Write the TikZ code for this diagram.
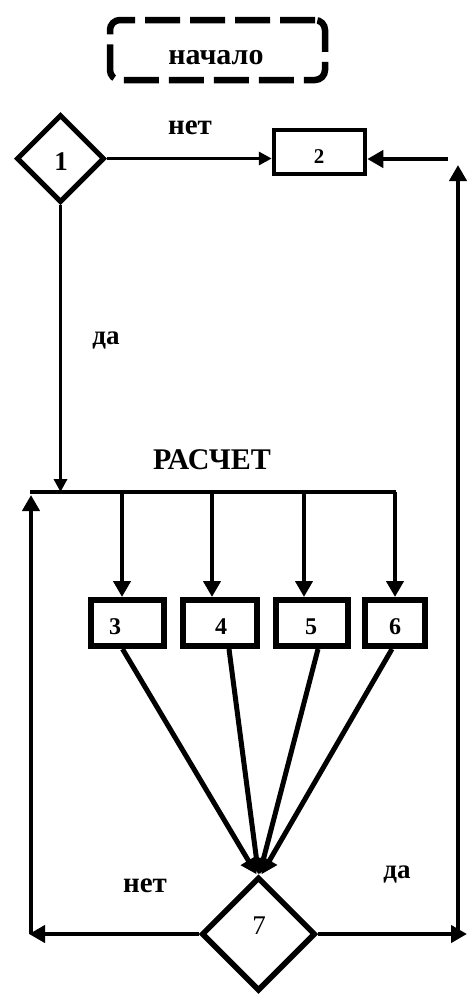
\documentclass[tikz,border=0pt]{standalone}
\usepackage{fontspec}
\setmainfont{Liberation Serif}
\usetikzlibrary{arrows.meta,shapes.geometric}
\begin{document}
\begin{tikzpicture}[x=1pt,y=-1pt,
  conn/.style={line width=4pt},
  arr/.style={conn,-{Triangle[length=16pt,width=17pt]}},
  sarr/.style={line width=3.5pt,-{Triangle[length=13pt,width=13pt]}},
  box/.style={draw,line width=6pt,inner sep=0pt,minimum height=46pt},
  dia/.style={draw,diamond,line width=5pt,inner sep=0pt,aspect=1},
  lbl/.style={font=\bfseries\fontsize{29}{29}\selectfont,inner sep=0pt},
  num/.style={font=\bfseries\fontsize{24}{24}\selectfont,inner sep=0pt}]
\useasboundingbox (0,0) rectangle (467,994);
% start
\node[draw,line width=6.5pt,rounded corners=10pt,dash pattern=on 35pt off 10pt,
      minimum width=215pt,minimum height=60pt] (start) at (217.5,50) {};
\node[lbl,font=\bfseries\fontsize{30}{30}\selectfont] (tstart) at (216,58) {начало};
% decision 1
\node[dia,minimum size=88pt] (d1) at (60.5,158.5) {};
\node[num,font=\bfseries\fontsize{27}{27}\selectfont] (t1) at (61,162) {1};
% box 2
\node[draw,line width=4.5pt,minimum width=91pt,minimum height=44pt] (b2) at (319.5,152) {};
\node[num,font=\bfseries\fontsize{21}{21}\selectfont] (t2) at (319,157) {2};
\node[lbl] (lnet1) at (190,128) {нет};
\draw[sarr] (d1.east) -- (d1.east -| b2.west);
% right side return
\coordinate (rh) at (448,159);
\coordinate (rt) at (458,165);
\coordinate (rv) at (458,934);
\coordinate (rb) at (467,934);
\draw[arr] (rh) -- (rh -| b2.east);
\draw[arr] (rv) -- (rt);
% yes from d1
\node[lbl,font=\bfseries\fontsize{27}{27}\selectfont] (lda1) at (106,341) {да};
\coordinate (busL) at (30,492);
\coordinate (busR) at (396,492);
\draw[line width=3.5pt] (busL) -- (busR);
\draw[sarr] (d1.south) -- (d1.south |- busL);
\node[lbl,font=\bfseries\fontsize{30}{30}\selectfont] (lcalc) at (212,460) {РАСЧЕТ};
% boxes 3..6
\node[box,minimum width=73pt] (b3) at (127.5,623) {};
\node[box,minimum width=74pt] (b4) at (220,623) {};
\node[box,minimum width=72pt] (b5) at (312,623) {};
\node[box,minimum width=60pt] (b6) at (395,623) {};
\node[num] (t3) at (115,627) {3};
\node[num] (t4) at (221,627) {4};
\node[num] (t5) at (311,627) {5};
\node[num] (t6) at (395,627) {6};
\coordinate (p3) at (122,492);
\coordinate (p4) at (212,492);
\coordinate (p5) at (304,492);
\coordinate (p6) at (395,492);
\draw[arr] (p3) -- (p3 |- b3.north);
\draw[arr] (p4) -- (p4 |- b4.north);
\draw[arr] (p5) -- (p5 |- b5.north);
\draw[arr] (p6) -- (p6 |- b6.north);
% decision 7
\node[dia,line width=5.5pt,minimum size=114pt] (d7) at (258.5,934) {};
\node[font=\fontsize{27}{27}\selectfont,inner sep=0pt] (t7) at (259,926) {7};
\draw[arr,line width=5pt] ([xshift=-5pt]b3.south) -- ([xshift=-2pt]d7.north);
\draw[arr,line width=5pt] ([xshift=9pt]b4.south) -- (d7.north);
\draw[arr,line width=5pt] ([xshift=6pt]b5.south) -- ([xshift=1pt]d7.north);
\draw[arr,line width=5pt] ([xshift=-3pt]b6.south) -- ([xshift=3pt]d7.north);
\coordinate (lb) at (29,934);
\coordinate (lt) at (31,495);
\draw[arr] (d7.west) -- (lb);
\draw[arr] (lb -| lt) -- (lt);
\draw[arr] (d7.east) -- (rb);
\node[lbl] (lnet2) at (145,886) {нет};
\node[lbl,font=\bfseries\fontsize{27}{27}\selectfont] (lda2) at (397,875) {да};
\end{tikzpicture}
\end{document}
